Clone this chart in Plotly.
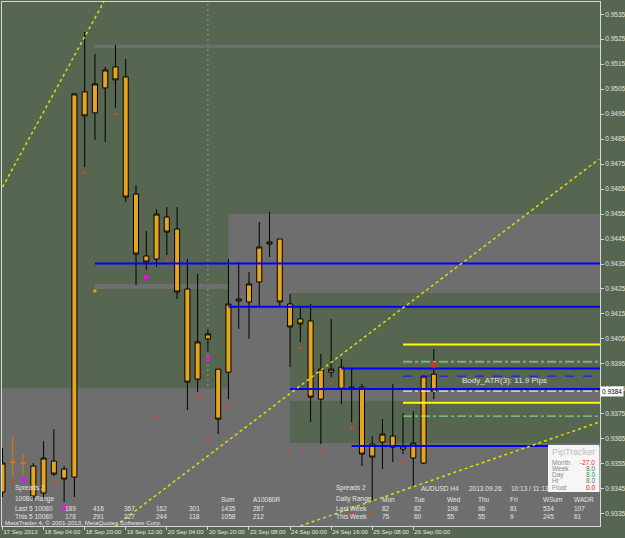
import plotly.graph_objects as go

# ---------------- data ----------------
bars = list(range(43))
opens = [0.93437, 0.93557, 0.93553, 0.93541, 0.93433, 0.93561, 0.93529, 0.93497, 0.95039, 0.94955,
         0.95055, 0.95139, 0.95099, 0.94630, 0.94382, 0.94370, 0.94538, 0.94490, 0.94250, 0.93889,
         0.94050, 0.93929, 0.93917, 0.94210, 0.94198, 0.94278, 0.94430, 0.94450, 0.94190, 0.94130,
         0.94122, 0.93809, 0.93917, 0.93937, 0.93849, 0.93857, 0.93629, 0.93637, 0.93661, 0.93609,
         0.93573, 0.93553, 0.93909]
highs = [0.93613, 0.93661, 0.93589, 0.93553, 0.93641, 0.93689, 0.93541, 0.95031, 0.95279, 0.95191,
         0.95139, 0.95227, 0.95171, 0.94666, 0.94482, 0.94570, 0.94578, 0.94578, 0.94370, 0.94310,
         0.94090, 0.93929, 0.94370, 0.94358, 0.94318, 0.94518, 0.94558, 0.94450, 0.94230, 0.94178,
         0.94190, 0.93990, 0.94130, 0.93970, 0.93933, 0.93869, 0.93661, 0.93729, 0.93869, 0.93753,
         0.93761, 0.93901, 0.94010]
lows = [0.93417, 0.93497, 0.93505, 0.93405, 0.93405, 0.93501, 0.93397, 0.93417, 0.94738, 0.94847,
        0.94839, 0.94975, 0.94598, 0.94266, 0.94326, 0.94338, 0.94386, 0.94210, 0.93765, 0.93837,
        0.93998, 0.93669, 0.93809, 0.94090, 0.94050, 0.94178, 0.94378, 0.94178, 0.93937, 0.94038,
        0.93717, 0.93629, 0.93897, 0.93789, 0.93717, 0.93541, 0.93405, 0.93529, 0.93557, 0.93589,
        0.93461, 0.93549, 0.93809]
closes = [0.93553, 0.93557, 0.93553, 0.93417, 0.93573, 0.93509, 0.93489, 0.95031, 0.94943, 0.95071,
          0.95127, 0.95087, 0.94618, 0.94390, 0.94358, 0.94550, 0.94478, 0.94238, 0.93877, 0.94038,
          0.94070, 0.93729, 0.94190, 0.94202, 0.94270, 0.94418, 0.94438, 0.94198, 0.94098, 0.94110,
          0.93817, 0.93929, 0.93929, 0.93849, 0.93857, 0.93589, 0.93577, 0.93669, 0.93617, 0.93621,
          0.93633, 0.93901, 0.93841]
orange_bars = [1, 2]

x_tick_bars = [0, 4, 8, 12, 16, 20, 24, 28, 32, 36, 40]
x_tick_labels = ["17 Sep 2013", "18 Sep 04:00", "18 Sep 20:00", "19 Sep 12:00", "20 Sep 04:00",
                 "20 Sep 20:00", "23 Sep 08:00", "24 Sep 00:00", "24 Sep 16:00", "25 Sep 08:00",
                 "26 Sep 00:00"]
y_ticks = [round(0.9335 + 0.001 * k, 4) for k in range(21)]

# horizontal levels (start bar, price)
blue_start = [9, 22, 33, 28, 34]
blue_price = [0.94352, 0.94179, 0.93932, 0.93850, 0.93621]
blue_dash_start, blue_dash_price = 39, 0.93901
yellow_start = [39, 39]
yellow_price = [0.94028, 0.93794]
green_dd_price = 0.93959
lgreen_dd_price = 0.93741
bid_price = 0.93841
levels_start = 39

# zones (bar0, bar1, price0, price1)
zone_bar0 = [22, 9, 22, -1, -1, -1, 9]
zone_bar1 = [60, 60, 28, 60, 28, 60, 60]
zone_p0 = [0.94234, 0.94250, 0.93853, 0.93801, 0.93633, 0.93200, 0.95215]
zone_p1 = [0.94550, 0.94270, 0.94234, 0.93853, 0.93801, 0.93633, 0.95228]

# trend lines (bar, price) pairs
tl_bars = [[0, 10], [11, 58.1], [29, 58.1]]
tl_prices = [[0.94658, 0.95410], [0.93301, 0.94770], [0.93301, 0.93717]]

arrow_bars = [1, 5, 8, 11, 15, 16, 19, 20, 22, 28, 29, 31, 32, 34, 39, 34, 36]
arrow_prices = [0.93477, 0.93481, 0.94714, 0.94951, 0.93741, 0.94362, 0.93813, 0.93641, 0.93781,
                0.93601, 0.94014, 0.93601, 0.93873, 0.93693, 0.93557, 0.93353, 0.93353]
magenta_bars = [2, 6, 14, 20]
magenta_prices = [0.93485, 0.93373, 0.94298, 0.93973]
small_orange_bar, small_orange_price = 9, 0.94242
separator_bar = 20

range_cols = ["Sum", "A10080R"]
last5 = ["189", "416", "367", "162", "301", "1435", "287"]
this5 = ["178", "291", "227", "244", "118", "1058", "212"]
day_cols = ["Mon", "Tue", "Wed", "Thu", "Fri", "WSum", "WADR"]
last_week = ["82", "82", "198", "96", "81", "534", "107"]
this_week = ["75", "60", "55", "55", "9", "245", "61"]
pip_labels = ["Month", "Week", "Day", "Hr", "Float"]
pip_values = ["-27.0", "8.0", "8.0", "8.0", "0.0"]
pip_colors = ["#FF2020", "#2E8B57", "#2E8B57", "#2E8B57", "#FF0000"]

# ---------------- style ----------------
W, H = 625, 538
L, R, T, B = 2, 25, 2, 12
PW, PH = W - L - R, H - T - B
BG = "#566651"
GREY = "#6E6E6E"
ORANGE = "#E6A51E"
TXT = "#E4E4E4"
FONT = "Liberation Sans, Arial, sans-serif"
XR = [-0.05, 58.18]
YR = [0.93301, 0.95399]


def px(x):
    return (x - L) / PW


def py(y):
    return (H - B - y) / PH


fig = go.Figure()

# zones
shapes = []
for b0, b1, p0, p1 in zip(zone_bar0, zone_bar1, zone_p0, zone_p1):
    shapes.append(dict(type="rect", xref="x", yref="y", x0=b0, x1=b1, y0=p0, y1=p1,
                       fillcolor=GREY, line=dict(width=0), layer="below"))
shapes.append(dict(type="line", xref="x", yref="paper", x0=separator_bar, x1=separator_bar,
                   y0=0, y1=1, line=dict(color="#8E9A8C", width=1, dash="2px,3px"), layer="below"))
# PipTracker box
shapes.append(dict(type="rect", xref="paper", yref="paper", x0=px(548), x1=px(599.5),
                   y0=py(492), y1=py(445), fillcolor="#F6F6F6", line=dict(width=0), layer="above"))


def hline(start, price, color, width, dash):
    fig.add_trace(go.Scatter(x=[start, XR[1] + 1], y=[price, price], mode="lines",
                             line=dict(color=color, width=width, dash=dash),
                             hoverinfo="skip", showlegend=False))


for s, p in zip(blue_start, blue_price):
    hline(s, p, "#0000FF", 2, "solid")
hline(blue_dash_start, blue_dash_price, "#1010FF", 1, "dash")
for s, p in zip(yellow_start, yellow_price):
    hline(s, p, "#FFFF00", 2, "solid")
hline(levels_start, green_dd_price, "#7FB07F", 2, "dashdot")
hline(levels_start, lgreen_dd_price, "#90EE90", 1, "dashdot")
hline(levels_start, bid_price, "#FFFFFF", 1, "dashdot")

for tb, tp in zip(tl_bars, tl_prices):
    fig.add_trace(go.Scatter(x=tb, y=tp, mode="lines",
                             line=dict(color="#E0E000", width=1.5, dash="dot"),
                             hoverinfo="skip", showlegend=False))

# candles
main_idx = [i for i in bars if i not in orange_bars]
fig.add_trace(go.Candlestick(
    x=[bars[i] for i in main_idx], open=[opens[i] for i in main_idx],
    high=[highs[i] for i in main_idx], low=[lows[i] for i in main_idx],
    close=[closes[i] for i in main_idx],
    increasing=dict(fillcolor=ORANGE, line=dict(color="#000000", width=1)),
    decreasing=dict(fillcolor=ORANGE, line=dict(color="#000000", width=1)),
    whiskerwidth=0, hoverinfo="skip", showlegend=False))
fig.add_trace(go.Candlestick(
    x=[bars[i] for i in orange_bars], open=[opens[i] for i in orange_bars],
    high=[highs[i] for i in orange_bars], low=[lows[i] for i in orange_bars],
    close=[closes[i] for i in orange_bars],
    increasing=dict(fillcolor="#E07A10", line=dict(color="#E07A10", width=1)),
    decreasing=dict(fillcolor="#E07A10", line=dict(color="#E07A10", width=1)),
    whiskerwidth=0, hoverinfo="skip", showlegend=False))

# markers
fig.add_trace(go.Scatter(x=arrow_bars, y=arrow_prices, mode="markers",
                         marker=dict(symbol="triangle-up", size=4, color="#D8461C"),
                         hoverinfo="skip", showlegend=False))
fig.add_trace(go.Scatter(x=magenta_bars, y=magenta_prices, mode="markers",
                         marker=dict(symbol="square", size=4, color="#FF00FF"),
                         hoverinfo="skip", showlegend=False))
fig.add_trace(go.Scatter(x=[small_orange_bar], y=[small_orange_price], mode="markers",
                         marker=dict(symbol="square", size=3, color="#F0A000"),
                         hoverinfo="skip", showlegend=False))
fig.add_trace(go.Scatter(x=[bars[-1]], y=[highs[-1] - 0.00065], mode="markers",
                         marker=dict(symbol="cross", size=5, color="#FF2020"),
                         hoverinfo="skip", showlegend=False))

# texts
annots = []


def txt(x, y, s, size=6.5, color=TXT, anchor="left"):
    annots.append(dict(x=px(x), y=py(y), xref="paper", yref="paper", text=s, showarrow=False,
                       xanchor=anchor, yanchor="middle",
                       font=dict(size=size, color=color, family=FONT)))


txt(13, 488, "Spreads 2")
txt(13, 499, "10080 Range")
for cx, s in zip([219, 251], range_cols):
    txt(cx, 499, s)
txt(13, 508, "Last 5 10080")
txt(13, 516, "This 5 10080")
col_left = [63, 91, 122, 154, 187, 219, 251]
for cx, a, b in zip(col_left, last5, this5):
    txt(cx, 508, a)
    txt(cx, 516, b)
txt(3, 522, "MetaTrader 4, © 2001-2013, MetaQuotes Software Corp.", size=6.2)

txt(334, 488, "Spreads 2")
txt(419, 488, "AUDUSD H4")
txt(467, 488, "2013.09.26")
txt(509, 488, "10:13 / 11:13")
txt(334, 499, "Daily Range")
txt(334, 508, "Last Week")
txt(334, 516, "This Week")
col_mid = [380, 412, 445, 476, 508, 541, 572]
for cx, h, a, b in zip(col_mid, day_cols, last_week, this_week):
    txt(cx, 499, h)
    txt(cx, 508, a)
    txt(cx, 516, b)

txt(460, 380, "Body_ATR(3): 11.9 Pips", size=8)

txt(550, 452, "PipTracker", size=9, color="#BDBDBD")
for k, (lab, val, col) in enumerate(zip(pip_labels, pip_values, pip_colors)):
    yy = 462 + k * 6.3
    txt(550, yy, lab, size=6.5, color="#8A8A8A")
    txt(597, yy, val, size=6.5, color=col, anchor="right")

annots.append(dict(x=1.0, y=bid_price, xref="paper", yref="y", text="0.9384", showarrow=False,
                   xanchor="left", yanchor="middle", bgcolor="#FFFFFF", borderpad=1,
                   font=dict(size=6.5, color="#000000", family=FONT)))

fig.update_layout(
    width=W, height=H, margin=dict(l=L, r=R, t=T, b=B, autoexpand=False),
    paper_bgcolor=BG, plot_bgcolor=BG, showlegend=False,
    shapes=shapes, annotations=annots,
    xaxis=dict(range=XR, rangeslider=dict(visible=False), showgrid=False, zeroline=False,
               tickmode="array", tickvals=x_tick_bars, ticktext=x_tick_labels,
               ticks="outside", ticklen=3, tickcolor="#D0D0D0", tickangle=0,
               ticklabelposition="outside right",
               tickfont=dict(size=6, color=TXT, family=FONT),
               showline=True, mirror=True, linecolor="#D8D8D8", linewidth=1),
    yaxis=dict(range=YR, side="right", showgrid=False, zeroline=False,
               tickmode="array", tickvals=y_ticks, ticktext=["%.4f" % v for v in y_ticks],
               ticks="outside", ticklen=3, tickcolor="#D0D0D0",
               tickfont=dict(size=6.5, color=TXT, family=FONT),
               showline=True, mirror=True, linecolor="#D8D8D8", linewidth=1),
)

fig.write_html("out.html")
